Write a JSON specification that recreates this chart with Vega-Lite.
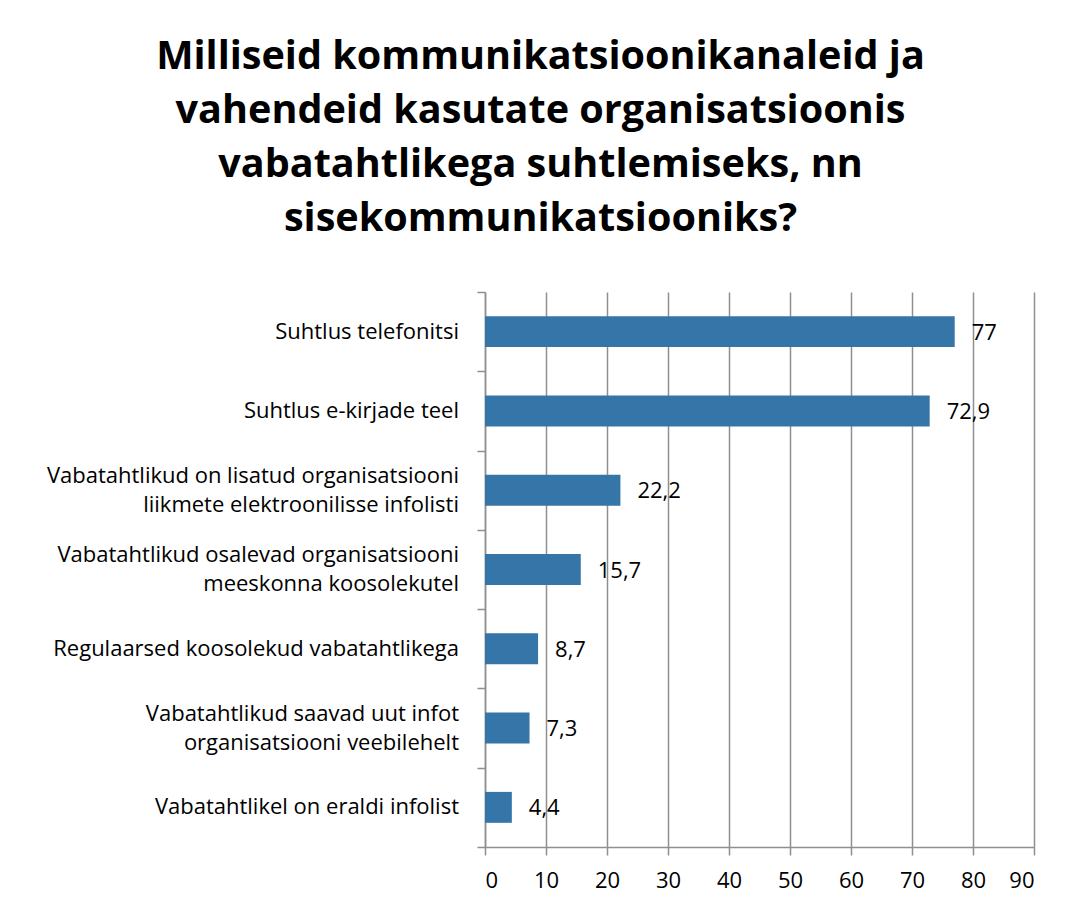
{
  "$schema": "https://vega.github.io/schema/vega-lite/v6.json",
  "width": 549,
  "height": 555,
  "autosize": "none",
  "padding": {"left": 485, "top": 292, "right": 34, "bottom": 61},
  "background": "white",
  "config": {
    "locale": {"number": {"decimal": ",", "thousands": " ", "grouping": [3], "currency": ["", " €"]}},
    "view": {"stroke": null},
    "font": "Open Sans"
  },
  "title": {
    "text": ["Milliseid kommunikatsioonikanaleid ja", "vahendeid kasutate organisatsioonis", "vabatahtlikega suhtlemiseks, nn", "sisekommunikatsiooniks?"],
    "fontSize": 39.6,
    "font": "Open Sans",
    "fontWeight": "bold",
    "lineHeight": 54,
    "anchor": "middle",
    "frame": "group",
    "dx": -219,
    "offset": 52,
    "color": "black"
  },
  "data": {
    "values": [
      {"kanal": "Suhtlus telefonitsi", "rida1": "Suhtlus telefonitsi", "rida2": "", "protsent": 77},
      {"kanal": "Suhtlus e-kirjade teel", "rida1": "Suhtlus e-kirjade teel", "rida2": "", "protsent": 72.9},
      {"kanal": "Vabatahtlikud on lisatud organisatsiooni liikmete elektroonilisse infolisti", "rida1": "Vabatahtlikud on lisatud organisatsiooni", "rida2": "liikmete elektroonilisse infolisti", "protsent": 22.2},
      {"kanal": "Vabatahtlikud osalevad organisatsiooni meeskonna koosolekutel", "rida1": "Vabatahtlikud osalevad organisatsiooni", "rida2": "meeskonna koosolekutel", "protsent": 15.7},
      {"kanal": "Regulaarsed koosolekud vabatahtlikega", "rida1": "Regulaarsed koosolekud vabatahtlikega", "rida2": "", "protsent": 8.7},
      {"kanal": "Vabatahtlikud saavad uut infot organisatsiooni veebilehelt", "rida1": "Vabatahtlikud saavad uut infot", "rida2": "organisatsiooni veebilehelt", "protsent": 7.3},
      {"kanal": "Vabatahtlikel on eraldi infolist", "rida1": "Vabatahtlikel on eraldi infolist", "rida2": "", "protsent": 4.4}
    ]
  },
  "encoding": {
    "y": {
      "field": "kanal",
      "type": "nominal",
      "sort": null,
      "scale": {"paddingInner": 0, "paddingOuter": 0},
      "axis": {
        "title": null,
        "grid": false,
        "labels": false,
        "tickBand": "extent",
        "tickSize": 8,
        "tickColor": "#8f8f8f",
        "tickWidth": 1.5,
        "domainColor": "#8f8f8f",
        "domainWidth": 1.5
      }
    }
  },
  "layer": [
    {
      "mark": {"type": "bar", "color": "#3675A8", "height": {"band": 0.39}},
      "encoding": {
        "x": {
          "field": "protsent",
          "type": "quantitative",
          "scale": {"domain": [0, 90], "nice": false},
          "axis": {
            "title": null,
            "values": [0, 10, 20, 30, 40, 50, 60, 70, 80, 90],
            "grid": true,
            "gridColor": "#8f8f8f",
            "gridWidth": 1.5,
            "tickSize": 8,
            "tickColor": "#8f8f8f",
            "tickWidth": 1.5,
            "domainColor": "#8f8f8f",
            "domainWidth": 1.5,
            "labelFont": "Open Sans",
            "labelFontSize": 22,
            "labelColor": "black",
            "labelPadding": 15
          }
        }
      }
    },
    {
      "mark": {"type": "text", "align": "left", "baseline": "middle", "dx": 17, "dy": 1, "fontSize": 22, "font": "Open Sans", "color": "black"},
      "encoding": {
        "x": {"field": "protsent", "type": "quantitative"},
        "text": {"field": "protsent", "type": "quantitative", "format": ".1~f"}
      }
    },
    {
      "transform": [{"filter": "datum.rida2 == ''"}],
      "mark": {"type": "text", "align": "right", "baseline": "middle", "dx": -26, "fontSize": 22, "font": "Open Sans", "color": "black"},
      "encoding": {
        "x": {"datum": 0, "type": "quantitative"},
        "text": {"field": "rida1"}
      }
    },
    {
      "transform": [{"filter": "datum.rida2 != ''"}],
      "mark": {"type": "text", "align": "right", "baseline": "middle", "dx": -26, "dy": -14.5, "fontSize": 22, "font": "Open Sans", "color": "black"},
      "encoding": {
        "x": {"datum": 0, "type": "quantitative"},
        "text": {"field": "rida1"}
      }
    },
    {
      "transform": [{"filter": "datum.rida2 != ''"}],
      "mark": {"type": "text", "align": "right", "baseline": "middle", "dx": -26, "dy": 14.5, "fontSize": 22, "font": "Open Sans", "color": "black"},
      "encoding": {
        "x": {"datum": 0, "type": "quantitative"},
        "text": {"field": "rida2"}
      }
    }
  ]
}
